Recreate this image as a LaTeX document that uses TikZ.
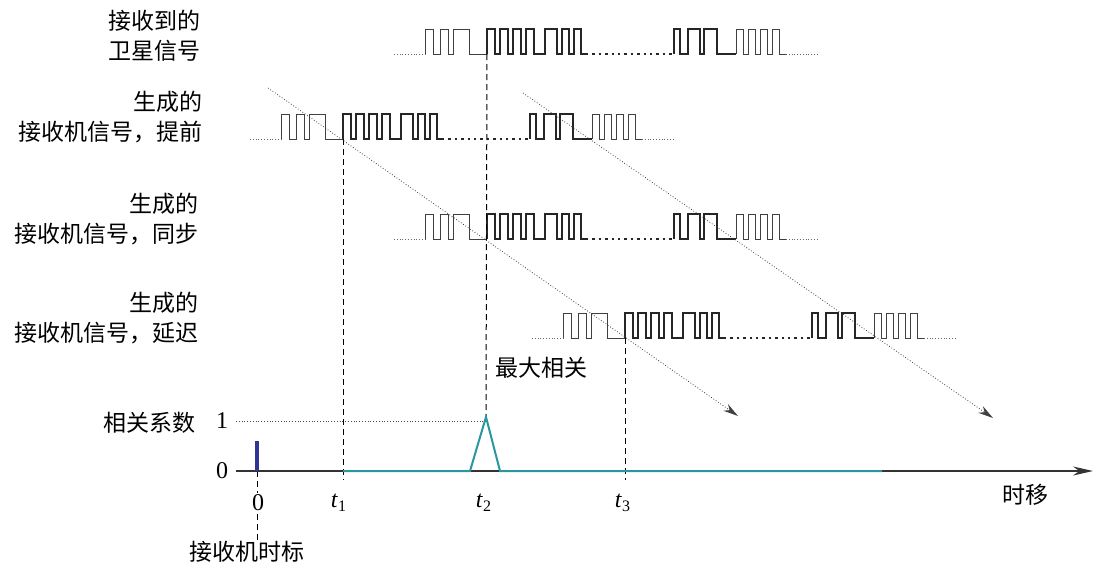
\documentclass[tikz,border=0pt]{standalone}
\usepackage{fontspec}
\setmainfont{Liberation Serif}
\newfontfamily\cjk{Noto Sans CJK SC}
\usetikzlibrary{calc,arrows.meta}

\definecolor{corrcol}{RGB}{42,150,160}
\definecolor{clockcol}{RGB}{48,52,150}

\newcommand{\pulses}[5]{%
  \draw[#1] ({#2},{#3}) foreach \e [count=\i] in {#4} {
    -| ({#2+\e},{#3-mod(\i,2)*25})} -- ({#2+#5},{#3});
}

\newcommand{\codewave}[3]{%
  \coordinate (#1-t) at (#2,#3);
  \coordinate (#1-e) at ({#2+249},#3);
  \draw[leadline] ({#2-93},#3) -- ({#2-62},#3);
  \pulses{thinwave}{#2-62}{#3}{0,8,15,23,28,44}{62}
  \pulses{thickwave}{#2}{#3}{0,8,13,21,26,34,39,47,58,70,75,82,87,94}{99}
  \draw[gapline] ({#2+99},#3) -- ({#2+187},#3);
  \pulses{thickwave}{#2+187}{#3}{0,6,14,26,30,43}{62}
  \pulses{thinwave}{#2+249}{#3}{0,7,12,19,24,31,36,43}{50}
  \draw[leadline] ({#2+299},#3) -- ({#2+331},#3);
}

\begin{document}
\begin{tikzpicture}[x=0.5pt,y=-0.5pt,font=\fontsize{12}{14}\selectfont]
  \tikzstyle{thinwave}=[line width=0.5pt, black!75]
  \tikzstyle{thickwave}=[line width=1.2pt, black!85]
  \tikzstyle{leadline}=[line width=0.4pt, black!60, densely dotted]
  \tikzstyle{gapline}=[line width=1.2pt, black!85, dotted]
  \tikzstyle{sweeparrow}=[line width=0.4pt, black!75, densely dotted,
    -{Stealth[length=7.5pt,width=4pt]}]
  \tikzstyle{guideline}=[line width=0.5pt, black, dash pattern=on 3pt off 2pt]
  \tikzstyle{levelline}=[line width=0.4pt, black!70, densely dotted]
  \tikzstyle{timeaxis}=[line width=0.9pt, black!80, -{Stealth[length=10pt,width=4.5pt]}]
  \tikzstyle{corrline}=[line width=1pt, corrcol]
  \tikzstyle{clockbar}=[line width=2.2pt, clockcol]
  \tikzstyle{cjklabel}=[font=\cjk\fontsize{11.5}{15}\selectfont, inner sep=0pt, align=right]

  \useasboundingbox (0,0) rectangle (1100,575);

  \node[cjklabel, anchor=east] (recvlbl) at (201,36) {接收到的\\卫星信号};
  \node[cjklabel, anchor=east] (earlylbl) at (203,117) {生成的\\接收机信号，提前};
  \node[cjklabel, anchor=east] (synclbl) at (199,219) {生成的\\接收机信号，同步};
  \node[cjklabel, anchor=east] (latelbl) at (199,318) {生成的\\接收机信号，延迟};

  \codewave{recv}{487}{54}
  \codewave{early}{343}{139}
  \codewave{sync}{487}{239}
  \codewave{late}{625}{338}

  \coordinate (sweepA-s) at (268,88);
  \coordinate (sweepA-e) at (738,416);
  \coordinate (sweepB-s) at (523,93);
  \coordinate (sweepB-e) at (993,418);
  \draw[sweeparrow] (sweepA-s) -- (sweepA-e);
  \draw[sweeparrow] (sweepB-s) -- (sweepB-e);

  \node[cjklabel] (maxlbl) at (541,368) {最大相关};

  \coordinate (org) at (236,471);
  \coordinate (xend) at (1093,471);
  \coordinate (peak) at (486,417);
  \coordinate (clk0) at (257,471);

  \node[cjklabel, anchor=east] (corrlbl) at (196,423) {相关系数};
  \node[inner sep=1pt] (one) at (222,421) {1};
  \node[inner sep=1pt] (zeroval) at (222,471) {0};
  \node[cjklabel] (shiftlbl) at (1025,495) {时移};
  \node[inner sep=1pt] (zerotick) at (258,503) {0};
  \node[inner sep=1pt] (tA) at (339,503) {\textit{t}\textsubscript{1}};
  \node[inner sep=1pt] (tB) at (484,503) {\textit{t}\textsubscript{2}};
  \node[inner sep=1pt] (tC) at (623,503) {\textit{t}\textsubscript{3}};
  \node[cjklabel] (clklbl) at (247,552) {接收机时标};

  \draw[guideline] (early-t) -- ($(early-t |- org)+(0,9)$);
  \draw[guideline] (recv-t) -- (peak);
  \draw[guideline] (late-t) -- ($(late-t |- org)+(0,9)$);
  \draw[guideline] (clk0) -- (clk0 |- zerotick.north);
  \draw[guideline] (clk0 |- zerotick.south) -- (clk0 |- clklbl.north);
  \draw[levelline] (one.east -| org) -- (one.east -| peak);

  \draw[timeaxis] (org) -- (xend);
  \draw[clockbar] (clk0) -- ++(0,-30);
  \draw[corrline] (early-t |- org) -- (470,471) -- (peak) -- (500,471) -- (882,471);
\end{tikzpicture}
\end{document}
